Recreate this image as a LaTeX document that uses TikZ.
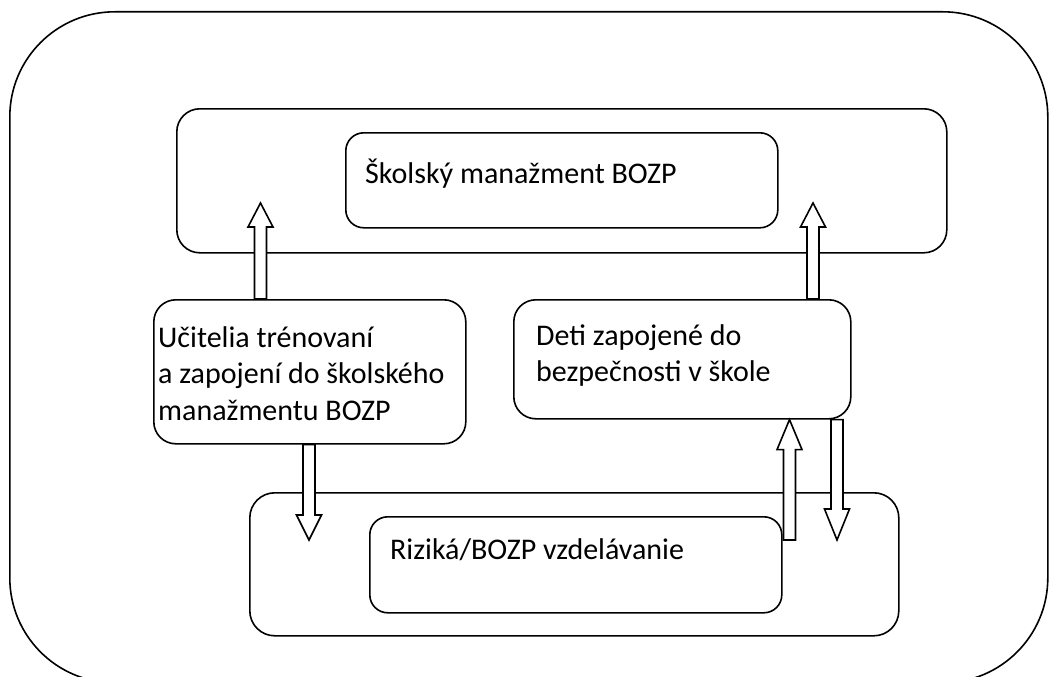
\documentclass[tikz,border=0pt]{standalone}
\usepackage{fontspec}
\setmainfont{Carlito}
\usetikzlibrary{calc}

\newcommand{\barrow}[3]{%
  \draw[blockarrow] let \p1=(#1), \p2=(#2) in
    (\x2-6pt,\y1) -- (\x2-6pt,\y2+#3) -- (\x2-12.5pt,\y2+#3) -- (\x2,\y2)
    -- (\x2+12.5pt,\y2+#3) -- (\x2+6pt,\y2+#3) -- (\x2+6pt,\y1) -- cycle;}

\begin{document}
\begin{tikzpicture}
[x=1pt,y=-1pt,
 box/.style={draw=black,line width=1.6pt,rounded corners=#1,anchor=north west,inner sep=0pt},
 box/.default=22pt,
 label text/.style={font=\fontsize{30}{36.5}\selectfont,anchor=base west,inner sep=0pt,
   text width=330pt,align=flush left},
 blockarrow/.style={draw=black,fill=white,line width=1.6pt,line join=miter}]
\useasboundingbox (0,0) rectangle (1057,677);

\node[box=105pt,minimum width=1038pt,minimum height=671pt] (frame) at (9,11) {};

\node[box=23pt,minimum width=770pt,minimum height=144pt] (mgmtarea) at (176,108) {};
\node[box=18pt,minimum width=432pt,minimum height=95pt] (mgmt) at (345,132) {};
\node[label text] (mgmttext) at (365,183) {Školský manažment BOZP};

\node[box,minimum width=312pt,minimum height=144pt] (teachers) at (153,299) {};
\node[label text] (teacherstext) at (158,347)
  {Učitelia trénovaní\\a zapojení do školského\\manažmentu BOZP};
\node[box,minimum width=337pt,minimum height=119pt] (kids) at (513,299) {};
\node[label text] (kidstext) at (536,345) {Deti zapojené do\\bezpečnosti v škole};

\node[box=25pt,minimum width=649pt,minimum height=143pt] (riskarea) at (249,492) {};
\node[box=18pt,minimum width=412pt,minimum height=96pt] (risk) at (369,516) {};
\node[label text] (risktext) at (390,559) {Riziká/BOZP vzdelávanie};

\coordinate (up1) at (260.5,203);
\coordinate (up2) at (813,203);
\coordinate (down1) at (309,540);
\coordinate (up3) at (789.5,540);
\coordinate (down2) at (837,540);

\barrow{teachers.north -| up1}{up1}{-24pt}
\barrow{kids.north -| up2}{up2}{-24pt}
\barrow{teachers.south -| down1}{down1}{25pt}
\barrow{up3}{kids.south -| up3}{-30pt}
\barrow{kids.south -| down2}{down2}{31pt}
\end{tikzpicture}
\end{document}
